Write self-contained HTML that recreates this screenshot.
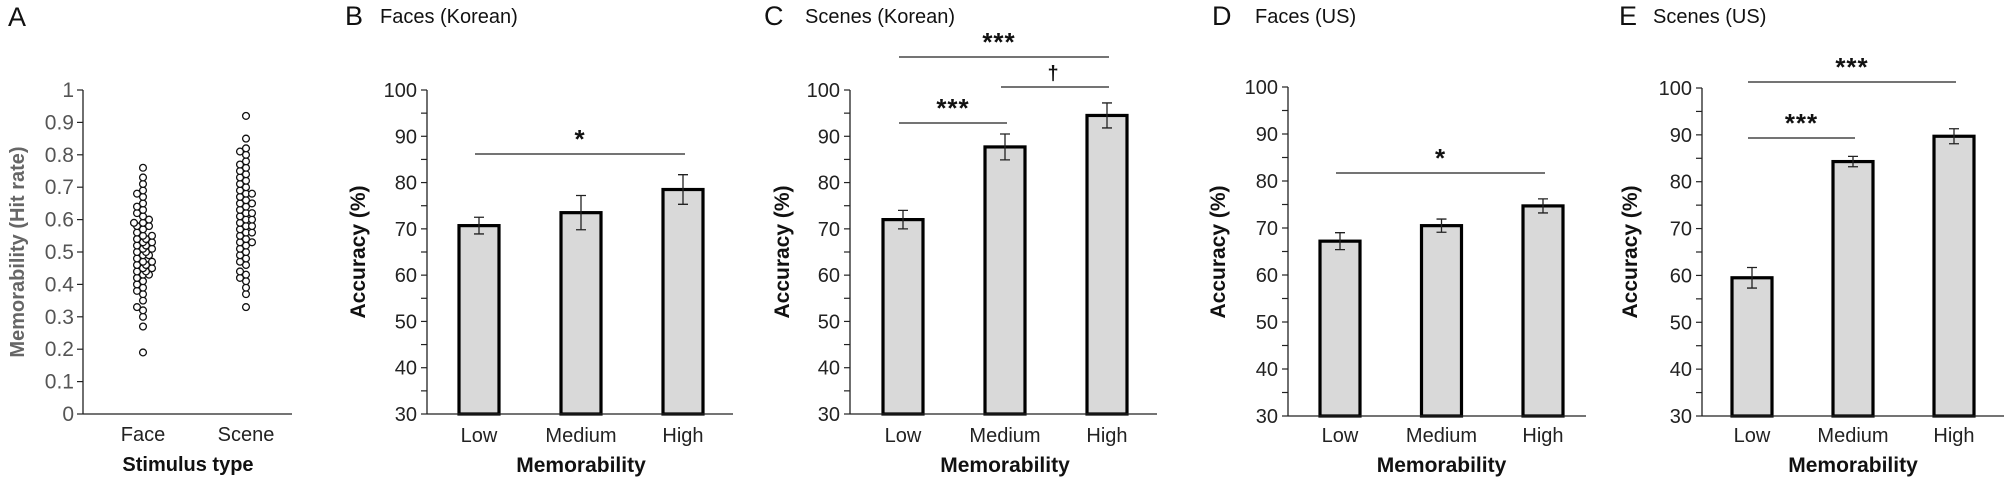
<!DOCTYPE html>
<html><head><meta charset="utf-8">
<style>
html,body{margin:0;padding:0;background:#fff;}
svg{display:block;font-family:"Liberation Sans",Arial,sans-serif;}
</style></head>
<body>
<svg id="fig" width="2007" height="490" viewBox="0 0 2007 490" xmlns="http://www.w3.org/2000/svg"></svg>
<script>
// Panel A data
const faceValues = [0.19,0.27,0.30,0.32,0.33,0.35,0.37,0.38,0.39,0.40,0.41,0.42,0.43,0.43,0.44,0.44,0.45,0.45,0.46,0.46,0.47,0.47,0.48,0.49,0.49,0.50,0.50,0.51,0.51,0.52,0.52,0.53,0.53,0.54,0.54,0.55,0.55,0.56,0.57,0.58,0.58,0.59,0.59,0.60,0.61,0.62,0.63,0.64,0.65,0.67,0.68,0.69,0.71,0.73,0.76];
const sceneValues = [0.33,0.37,0.39,0.41,0.42,0.43,0.44,0.46,0.47,0.48,0.49,0.50,0.51,0.52,0.53,0.53,0.54,0.55,0.56,0.56,0.57,0.58,0.58,0.59,0.60,0.60,0.61,0.62,0.62,0.63,0.64,0.65,0.65,0.66,0.67,0.68,0.68,0.69,0.70,0.71,0.72,0.73,0.74,0.75,0.76,0.77,0.78,0.80,0.81,0.82,0.85,0.92];
const stimCategories = ["Face","Scene"];
const hitTicks = ["0","0.1","0.2","0.3","0.4","0.5","0.6","0.7","0.8","0.9","1"];
// Bar panels data
const memCategories = ["Low","Medium","High"];
const accTicks = [30,40,50,60,70,80,90,100];
const faceKoreanMeans = [70.7,73.5,78.5];
const faceKoreanErr = [1.8,3.7,3.2];
const sceneKoreanMeans = [72.0,87.7,94.5];
const sceneKoreanErr = [2.0,2.8,2.7];
const faceUSMeans = [67.2,70.5,74.7];
const faceUSErr = [1.8,1.4,1.5];
const sceneUSMeans = [59.5,84.3,89.7];
const sceneUSErr = [2.2,1.1,1.6];

const NS = "http://www.w3.org/2000/svg";
const svg = document.getElementById('fig');
function mk(tag, attrs, parent, text){
  const e = document.createElementNS(NS, tag);
  for (const k in attrs) e.setAttribute(k, attrs[k]);
  if (text !== undefined) e.textContent = text;
  (parent||svg).appendChild(e);
  return e;
}

// ---------- Panel A ----------
(function(){
  const g = mk('g', {});
  
  
  const ax = 83, y0 = 414, y1 = 90, xEnd = 292;
  const ys = v => y0 - (y0 - y1) * v;
  const t = mk('text', {x:8, y:26, 'font-size':27, fill:'#111'}, g, 'A');
  
  
  const yl = mk('line', {x1:ax, y1:y1, x2:ax, y2:y0, stroke:'#222', 'stroke-width':1.3}, g);
  
  
  const xl = mk('line', {x1:ax, y1:y0, x2:xEnd, y2:y0, stroke:'#222', 'stroke-width':1.3}, g);
  
  
  hitTicks.forEach((lab, i) => {
    const v = parseFloat(lab);
    mk('line', {x1:ax-6, y1:ys(v), x2:ax, y2:ys(v), stroke:'#222', 'stroke-width':1.2}, g);
    const tl = mk('text', {x:ax-9, y:ys(v)+7, 'font-size':21, fill:'#555', 'text-anchor':'end'}, g, lab);
    
    
  });
  const yt = mk('text', {x:0, y:0, 'font-size':20, 'font-weight':'bold', fill:'#666', 'text-anchor':'middle', transform:'translate(24,252) rotate(-90)'}, g, 'Memorability (Hit rate)');
  
  
  const cx = [143, 246];
  stimCategories.forEach((c, i) => {
    const xt = mk('text', {x:cx[i], y:441, 'font-size':20, fill:'#222', 'text-anchor':'middle'}, g, c);
    
    
  });
  const xtt = mk('text', {x:188, y:471, 'font-size':20, 'font-weight':'bold', fill:'#111', 'text-anchor':'middle'}, g, 'Stimulus type');
  
  
  [faceValues, sceneValues].forEach((vals, gi) => {
    const placed = [];
    const offs = [0,-3,3,-6,6,-9,9];
    vals.forEach(v => {
      const y = ys(v);
      let chosen = offs[offs.length-1], best = -1;
      for (const o of offs) {
        const d = placed.length ? Math.min(...placed.map(p => Math.hypot(p[0]-o, p[1]-y))) : 99;
        if (d > 5) { chosen = o; break; }
        if (d > best) { best = d; chosen = o; }
      }
      placed.push([chosen, y]);
      const c = mk('circle', {cx:cx[gi]+chosen, cy:y, r:3.4, fill:'#fff', stroke:'#111', 'stroke-width':1.3}, g);
      
      
    });
  });
})();

// ---------- Bar panels ----------
function barPanel(cfg){
  const g = mk('g', {});
  
  
  const ys = v => cfg.y30 - (cfg.y30 - cfg.y100) * (v - 30) / 70;
  const L = mk('text', {x:cfg.letterX, y:25, 'font-size':27, fill:'#111'}, g, cfg.letter);
  
  
  const T = mk('text', {x:cfg.titleX, y:23, 'font-size':20, fill:'#111'}, g, cfg.title);
  
  
  const yl = mk('line', {x1:cfg.ax, y1:cfg.y100, x2:cfg.ax, y2:cfg.y30, stroke:'#222', 'stroke-width':1.3}, g);
  
  
  for (let v = 30; v <= 100; v += 5) {
    mk('line', {x1:cfg.ax-6, y1:ys(v), x2:cfg.ax, y2:ys(v), stroke:'#222', 'stroke-width':1.2}, g);
  }
  accTicks.forEach(v => {
    const tl = mk('text', {x:cfg.ax-10, y:ys(v)+7, 'font-size':20, fill:'#222', 'text-anchor':'end'}, g, String(v));
    
    
  });
  const yt = mk('text', {x:0, y:0, 'font-size':21, 'font-weight':'bold', fill:'#111', 'text-anchor':'middle', transform:`translate(${cfg.ytX},252) rotate(-90)`}, g, 'Accuracy (%)');
  
  
  const step = cfg.step, first = cfg.ax + cfg.firstOff;
  const bx = i => first + step * i;
  const hw = 20;
  memCategories.forEach((c, i) => {
    const top = ys(cfg.means[i]);
    const b = mk('rect', {x:bx(i)-hw, y:top, width:hw*2, height:cfg.y30-top, fill:'#d9d9d9', stroke:'#000', 'stroke-width':3.2}, g);
    
    
    const e1 = ys(cfg.means[i] + cfg.err[i]), e2 = ys(cfg.means[i] - cfg.err[i]);
    const eb = mk('path', {d:`M${bx(i)-5},${e1}H${bx(i)+5}M${bx(i)},${e1}V${e2}M${bx(i)-5},${e2}H${bx(i)+5}`, stroke:'#222', 'stroke-width':1.3, fill:'none'}, g);
    
    
    const xt = mk('text', {x:bx(i), y:442, 'font-size':20, fill:'#222', 'text-anchor':'middle'}, g, c);
    
    
  });
  const xl = mk('line', {x1:cfg.ax, y1:cfg.y30, x2:cfg.axEnd, y2:cfg.y30, stroke:'#222', 'stroke-width':1.3}, g);
  
  
  const xtt = mk('text', {x:bx(1), y:472, 'font-size':21, 'font-weight':'bold', fill:'#111', 'text-anchor':'middle'}, g, 'Memorability');
  
  
  cfg.sig.forEach(s => {
    const x1 = bx(s.a) - 4, x2 = bx(s.b) + 2;
    const ln = mk('line', {x1:x1, y1:s.y, x2:x2, y2:s.y, stroke:'#222', 'stroke-width':1.3}, g);
    
    
    const dag = s.lab === '†';
    const st = mk('text', {x:(x1+x2)/2 + (s.dx||0), y:dag ? s.y - 7 : s.y - 6, 'font-size':dag ? 20 : 26, 'font-weight':'bold', fill:'#111', 'text-anchor':'middle', 'letter-spacing':dag ? 0 : 1}, g, s.lab);
    
    
  });
}

barPanel({name:'panel-b', letter:'B', letterX:345, title:'Faces (Korean)', titleX:380, ax:427, axEnd:733, y100:90, y30:414, ytX:365, firstOff:52, step:102,
  means:faceKoreanMeans, err:faceKoreanErr,
  sig:[{a:0,b:2,y:154,lab:'*'}]});
barPanel({name:'panel-c', letter:'C', letterX:764, title:'Scenes (Korean)', titleX:805, ax:850, axEnd:1157, y100:90, y30:414, ytX:789, firstOff:53, step:102,
  means:sceneKoreanMeans, err:sceneKoreanErr,
  sig:[{a:0,b:2,y:57,lab:'***',dx:-5},{a:0,b:1,y:123,lab:'***'},{a:1,b:2,y:87,lab:'†',dx:-2}]});
barPanel({name:'panel-d', letter:'D', letterX:1212, title:'Faces (US)', titleX:1255, ax:1288, axEnd:1586, y100:87, y30:416, ytX:1225, firstOff:52, step:101.5,
  means:faceUSMeans, err:faceUSErr,
  sig:[{a:0,b:2,y:173,lab:'*'}]});
barPanel({name:'panel-e', letter:'E', letterX:1619, title:'Scenes (US)', titleX:1653, ax:1702, axEnd:2004, y100:88, y30:416, ytX:1637, firstOff:50, step:101,
  means:sceneUSMeans, err:sceneUSErr,
  sig:[{a:0,b:2,y:82,lab:'***'},{a:0,b:1,y:138,lab:'***'}]});
</script>
</body></html>
